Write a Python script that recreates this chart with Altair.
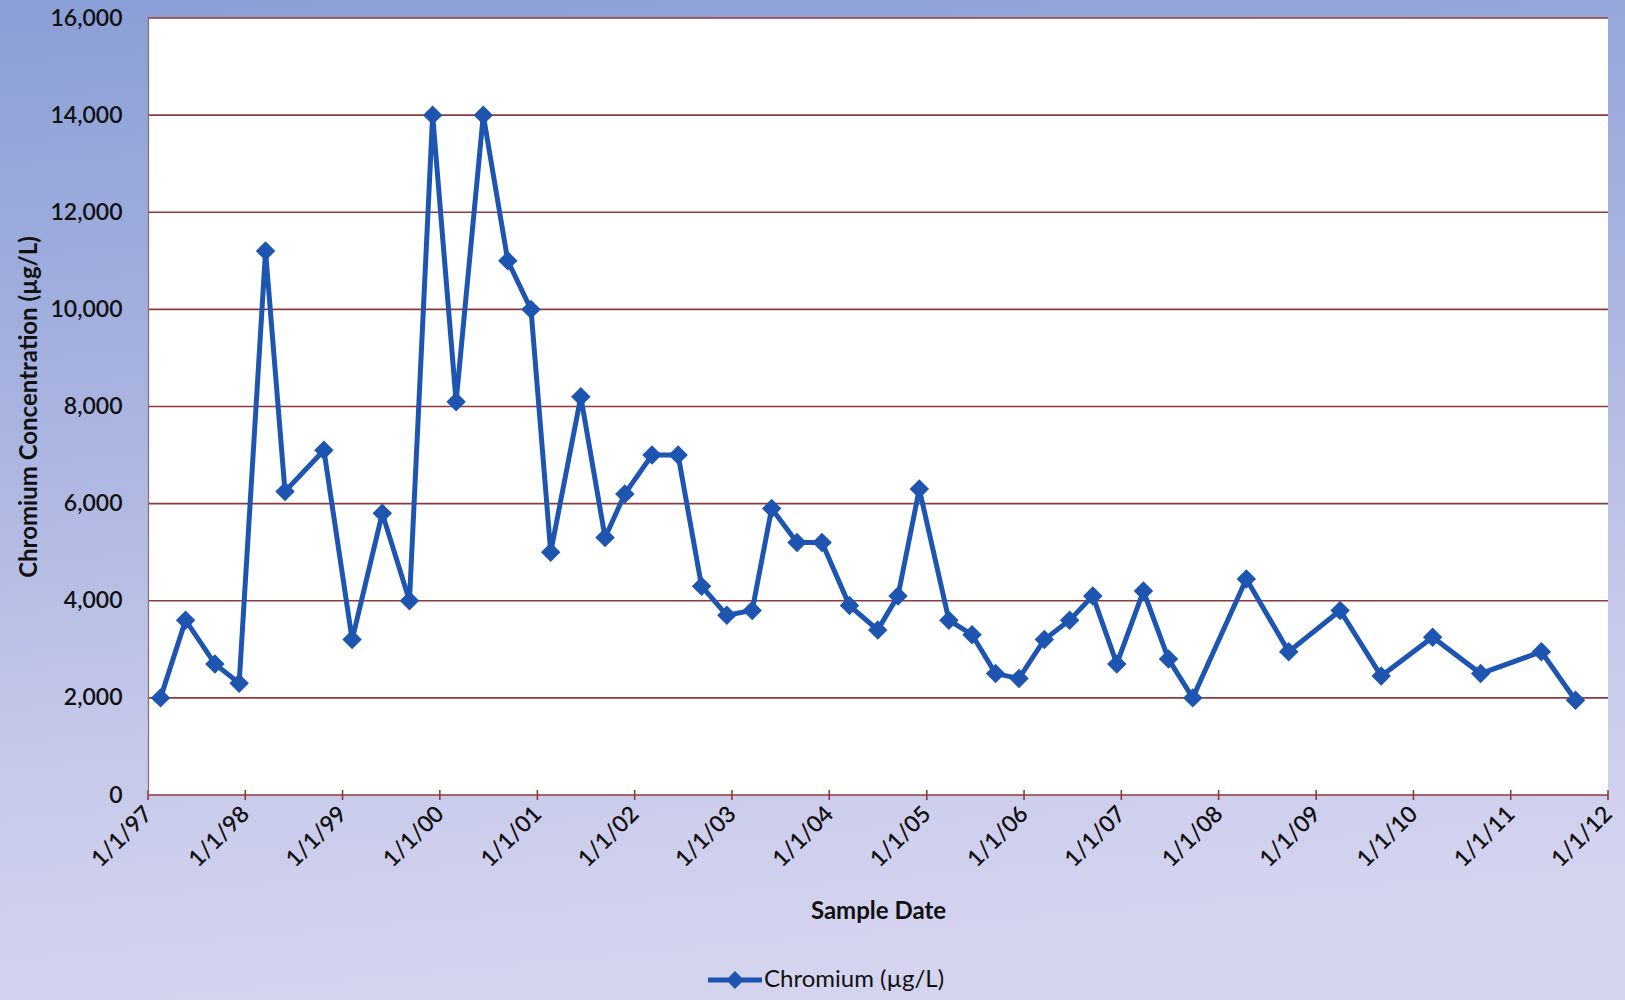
import altair as alt
import pandas as pd

# ---------------- data ----------------
sample_dates = [
    "1997-02-17", "1997-05-22", "1997-09-09", "1997-12-09", "1998-03-18",
    "1998-05-30", "1998-10-23", "1999-02-06", "1999-05-30", "1999-09-09",
    "1999-12-05", "2000-03-02", "2000-06-12", "2000-09-12", "2000-12-08",
    "2001-02-20", "2001-06-13", "2001-09-12", "2001-11-25", "2002-03-07",
    "2002-06-13", "2002-09-09", "2002-12-13", "2003-03-18", "2003-05-30",
    "2003-09-02", "2003-12-05", "2004-03-17", "2004-07-01", "2004-09-15",
    "2004-12-04", "2005-03-25", "2005-06-20", "2005-09-16", "2005-12-13",
    "2006-03-18", "2006-06-21", "2006-09-16", "2006-12-15", "2007-03-25",
    "2007-06-27", "2007-09-26", "2008-04-14", "2008-09-20", "2009-04-01",
    "2009-09-02", "2010-03-14", "2010-09-10", "2011-04-26", "2011-09-01",
]
chromium = [
    2000, 3600, 2700, 2300, 11200,
    6250, 7100, 3200, 5800, 4000,
    14000, 8100, 14000, 11000, 10000,
    5000, 8200, 5300, 6200, 7000,
    7000, 4300, 3700, 3800, 5900,
    5200, 5200, 3900, 3400, 4100,
    6300, 3600, 3300, 2500, 2400,
    3200, 3600, 4100, 2700, 4200,
    2800, 2000, 4450, 2950, 3800,
    2450, 3250, 2500, 2950, 1950,
]
series_name = "Chromium (µg/L)"
y_ticks = [0, 2000, 4000, 6000, 8000, 10000, 12000, 14000, 16000]
x_tick_years = list(range(1997, 2013))

# ---------------- style ----------------
W, H = 1460, 777
PAD = {"left": 148, "top": 18, "right": 17, "bottom": 205}
LINE_COLOR = "#1d55b0"
GRID_COLOR = "#8c3a3a"
FONT = "Lato"

df = pd.DataFrame({"date": sample_dates, "value": chromium, "series": series_name})
grid_df = pd.DataFrame({"value": y_ticks})
tick_df = pd.DataFrame({"date": [f"{y}-01-01" for y in x_tick_years]})

x_scale = alt.Scale(type="utc", domain=["1997-01-01", "2012-01-01"])
y_scale = alt.Scale(domain=[0, 16000], nice=False, zero=True)

x_axis = alt.Axis(
    values=[alt.DateTime(year=y, month=1, date=1, utc=True) for y in x_tick_years],
    labelExpr="utcFormat(datum.value, '%-m/%-d/%y')",
    labelAngle=-45, labelAlign="right", labelBaseline="middle",
    labelFontSize=23, labelFont=FONT, labelFontWeight=600, labelColor="#111111",
    labelPadding=15, ticks=False, domain=False, grid=False,
    title="Sample Date", titleFont=FONT, titleFontSize=24, titleFontWeight="bold",
    titleColor="#111111", titlePadding=28, zindex=1, labelOverlap=False,
)
y_axis = alt.Axis(
    values=y_ticks, format=",.0f", labelFontSize=23, labelFont=FONT,
    labelFontWeight=600, labelColor="#111111", labelPadding=26, ticks=False,
    grid=False, domain=True, domainColor="#8b6a6a", domainWidth=1.2,
    title="Chromium Concentration (µg/L)", titleFont=FONT, titleFontSize=24,
    titleFontWeight="bold", titleColor="#111111", titlePadding=8, zindex=1,
)

bg = alt.Chart(alt.Data(values=[{}])).mark_rect(
    fill=alt.Gradient(
        gradient="linear",
        stops=[
            alt.GradientStop(color="#8a9fd6", offset=0),
            alt.GradientStop(color="#a8b3e0", offset=0.4),
            alt.GradientStop(color="#c6c9ea", offset=0.75),
            alt.GradientStop(color="#d4d4ef", offset=1),
        ],
        x1=0, x2=0.15, y1=0, y2=1,
    )
).encode(
    x=alt.value(-PAD["left"]), x2=alt.value(W + PAD["right"]),
    y=alt.value(-PAD["top"]), y2=alt.value(H + PAD["bottom"]),
)

plot_bg = alt.Chart(alt.Data(values=[{}])).mark_rect(fill="white").encode(
    x=alt.value(0), x2=alt.value(W), y=alt.value(0), y2=alt.value(H)
)

grid = alt.Chart(grid_df).mark_rule(color=GRID_COLOR, strokeWidth=1.6).encode(
    y=alt.Y("value:Q", scale=y_scale, axis=y_axis),
    x=alt.value(0), x2=alt.value(W),
)

xticks = alt.Chart(tick_df).mark_rule(color=GRID_COLOR, strokeWidth=1.6).encode(
    x=alt.X("date:T", scale=x_scale, axis=x_axis),
    y=alt.value(H - 5), y2=alt.value(H + 5),
)

legend_path = ("M-1.5,-0.14L-0.36,-0.14L0,-0.5L0.36,-0.14L1.5,-0.14"
               "L1.5,0.14L0.36,0.14L0,0.5L-0.36,0.14L-1.5,0.14Z")

line = alt.Chart(df).mark_line(
    strokeWidth=5,
    point=alt.OverlayMarkDef(shape="diamond", filled=True, size=380, opacity=1),
).encode(
    x=alt.X("date:T", scale=x_scale, axis=x_axis),
    y=alt.Y("value:Q", scale=y_scale, axis=y_axis),
    color=alt.Color(
        "series:N",
        scale=alt.Scale(range=[LINE_COLOR]),
        legend=alt.Legend(
            orient="none", legendX=569, legendY=944, title=None,
            symbolType=legend_path, symbolSize=1296,
            symbolFillColor=LINE_COLOR, symbolStrokeColor=LINE_COLOR,
            symbolStrokeWidth=0, labelFont=FONT, labelFontSize=24,
            labelColor="#111111", labelOffset=11, labelLimit=0,
        ),
    ),
)

chart = alt.layer(bg, plot_bg, grid, xticks, line).properties(
    width=W, height=H, padding=PAD,
    autosize=alt.AutoSizeParams(type="none"),
    background="#c8cbeb",
).configure_view(stroke=None)

chart.save("out.html", embed_options={"renderer": "svg", "actions": False})
